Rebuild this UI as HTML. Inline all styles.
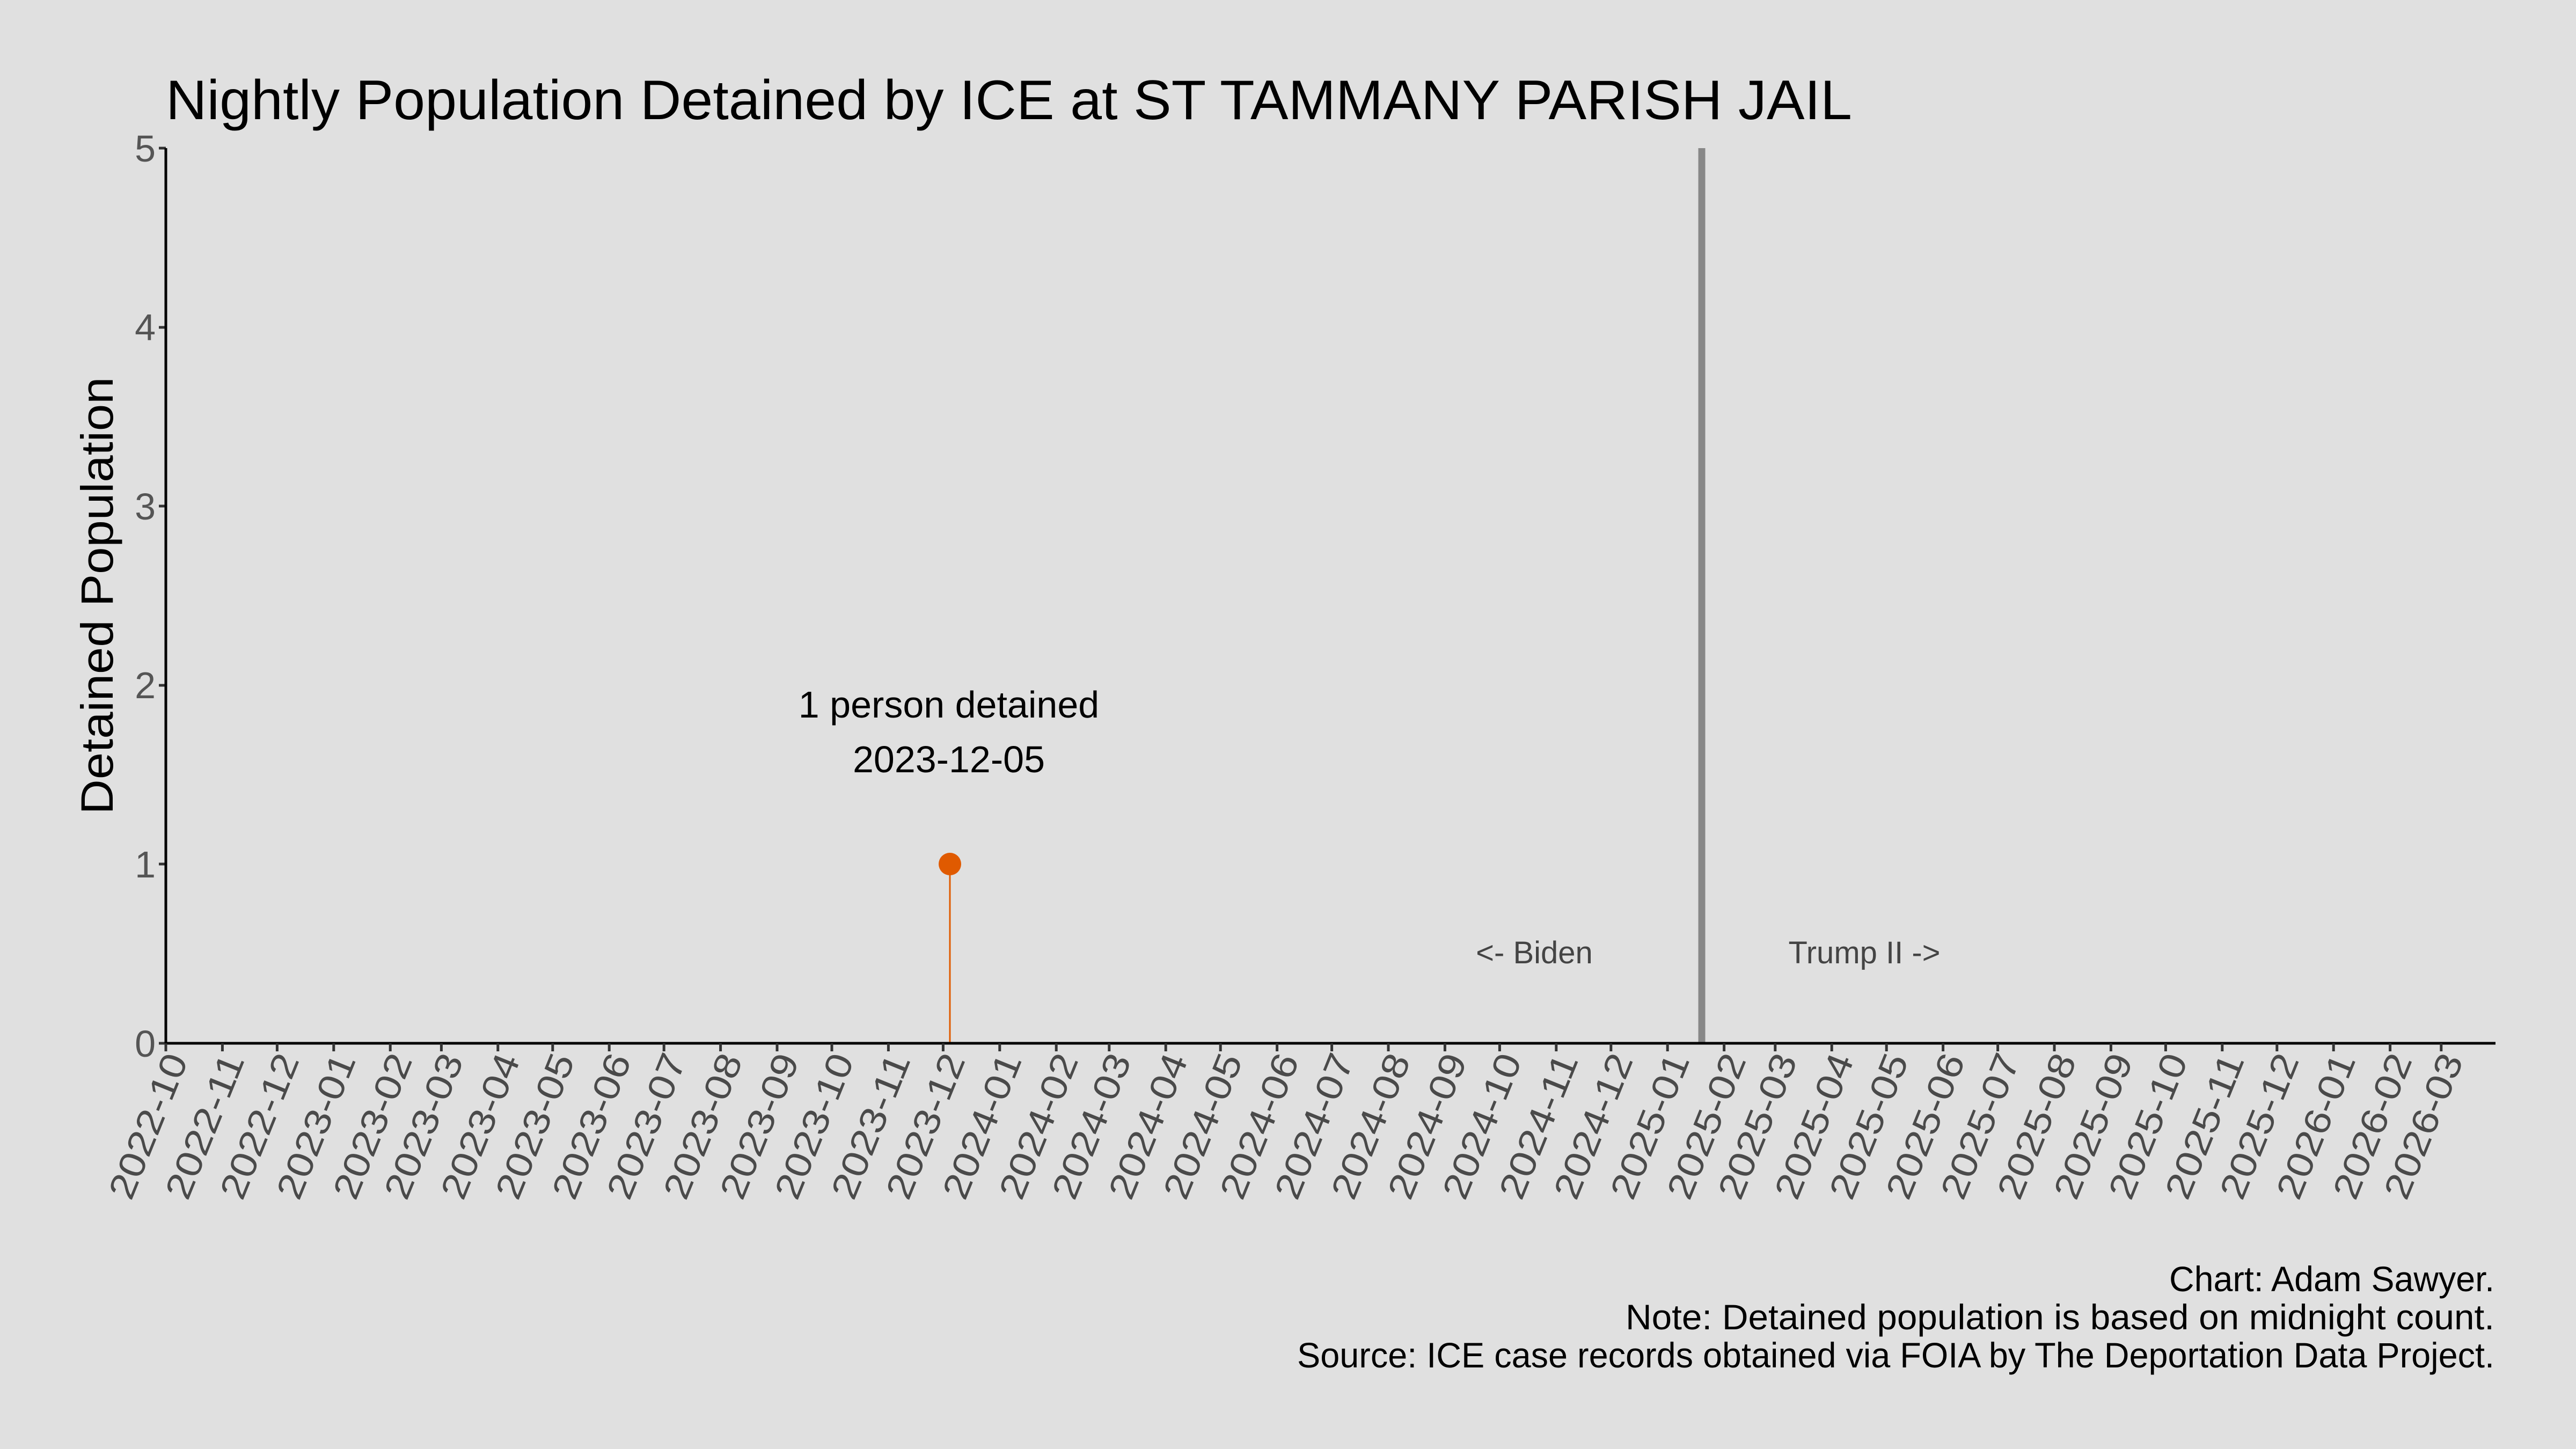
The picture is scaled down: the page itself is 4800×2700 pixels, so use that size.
<!DOCTYPE html>
<html><head><meta charset="utf-8"><style>html,body{margin:0;padding:0;background:#e0e0e0}svg{display:block}</style></head>
<body>
<svg width="4800" height="2700" viewBox="0 0 4800 2700" xmlns="http://www.w3.org/2000/svg" font-family="'Liberation Sans', 'DejaVu Sans', sans-serif">
<rect width="4800" height="2700" fill="#e0e0e0"/>
<text x="309" y="222" font-size="104" fill="#000" textLength="3142" lengthAdjust="spacingAndGlyphs">Nightly Population Detained by ICE at ST TAMMANY PARISH JAIL</text>
<text transform="translate(210,1110) rotate(-90)" text-anchor="middle" font-size="84" fill="#000" textLength="815" lengthAdjust="spacingAndGlyphs">Detained Population</text>
<g font-size="70" fill="#555" text-anchor="end">
<text x="290" y="1969">0</text>
<text x="290" y="1635">1</text>
<text x="290" y="1301">2</text>
<text x="290" y="968">3</text>
<text x="290" y="634">4</text>
<text x="290" y="301">5</text>
</g>
<g stroke="#333" stroke-width="5">
<line x1="296" y1="1944" x2="309" y2="1944"/>
<line x1="296" y1="1610" x2="309" y2="1610"/>
<line x1="296" y1="1277" x2="309" y2="1277"/>
<line x1="296" y1="943" x2="309" y2="943"/>
<line x1="296" y1="610" x2="309" y2="610"/>
<line x1="296" y1="276" x2="309" y2="276"/>
</g>
<line x1="3171" y1="276" x2="3171" y2="1944" stroke="#888" stroke-width="13"/>
<line x1="1770" y1="1610" x2="1770" y2="1944" stroke="#e05a00" stroke-width="3"/>
<circle cx="1770" cy="1610" r="21" fill="#e05a00"/>
<g font-size="70" fill="#000" text-anchor="middle">
<text x="1768" y="1337">1 person detained</text>
<text x="1768" y="1439">2023-12-05</text>
</g>
<g font-size="58" fill="#444" text-anchor="middle">
<text x="2859" y="1795">&lt;- Biden</text>
<text x="3474" y="1795">Trump II -&gt;</text>
</g>
<line x1="309" y1="276" x2="309" y2="1947" stroke="#000" stroke-width="5"/>
<line x1="307" y1="1944" x2="4650" y2="1944" stroke="#000" stroke-width="5"/>
<g font-size="66" fill="#000" text-anchor="end">
<text x="4648" y="2406" textLength="606" lengthAdjust="spacingAndGlyphs">Chart: Adam Sawyer.</text>
<text x="4648" y="2477" textLength="1619" lengthAdjust="spacingAndGlyphs">Note: Detained population is based on midnight count.</text>
<text x="4648" y="2548" textLength="2231" lengthAdjust="spacingAndGlyphs">Source: ICE case records obtained via FOIA by The Deportation Data Project.</text>
</g>
<g id="ticks" stroke="#333" stroke-width="5"></g>
<g id="labels" font-size="68" fill="#4a4a4a" text-anchor="end"></g>
</svg>
<script>
(function(){
var ns="http://www.w3.org/2000/svg";
var t=document.getElementById("ticks"),l=document.getElementById("labels");
var base=Date.UTC(2022,9,1),ppd=3.4;
for(var i=0;i<42;i++){
 var y=2022+Math.floor((9+i)/12),m=(9+i)%12;
 var d=(Date.UTC(y,m,1)-base)/86400000;
 var x=309+d*ppd;
 var ln=document.createElementNS(ns,"line");
 ln.setAttribute("x1",x);ln.setAttribute("x2",x);ln.setAttribute("y1",1944);ln.setAttribute("y2",1959);
 t.appendChild(ln);
 var tx=document.createElementNS(ns,"text");
 tx.setAttribute("transform","translate("+(x+42)+",1975) rotate(-68)");
 tx.setAttribute("textLength","285");
 tx.setAttribute("lengthAdjust","spacingAndGlyphs");
 tx.textContent=y+"-"+(m<9?"0":"")+(m+1);
 l.appendChild(tx);
}
})();
</script>
</body></html>
